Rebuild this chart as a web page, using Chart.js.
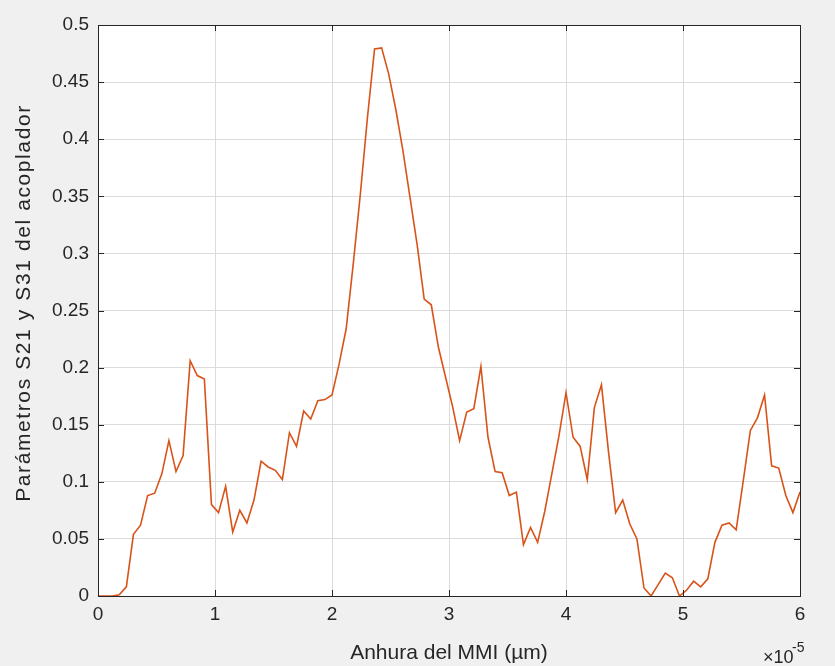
<!DOCTYPE html>
<html>
<head>
<meta charset="utf-8">
<script src="https://cdn.jsdelivr.net/npm/chart.js@4"></script>
<style>
  body { margin: 0; background: #f0f0f0; }
  #wrap { width: 835px; height: 666px; }
</style>
</head>
<body>
<div id="wrap"><canvas id="chart"></canvas></div>
<script>
// MMI width, in units of 1e-5 (shown by the x10^-5 exponent label)
const widthE5 = [
  0.0000, 0.0606, 0.1212, 0.1818, 0.2424, 0.3030, 0.3636, 0.4242, 0.4848, 0.5455,
  0.6061, 0.6667, 0.7273, 0.7879, 0.8485, 0.9091, 0.9697, 1.0303, 1.0909, 1.1515,
  1.2121, 1.2727, 1.3333, 1.3939, 1.4545, 1.5152, 1.5758, 1.6364, 1.6970, 1.7576,
  1.8182, 1.8788, 1.9394, 2.0000, 2.0606, 2.1212, 2.1818, 2.2424, 2.3030, 2.3636,
  2.4242, 2.4848, 2.5455, 2.6061, 2.6667, 2.7273, 2.7879, 2.8485, 2.9091, 2.9697,
  3.0303, 3.0909, 3.1515, 3.2121, 3.2727, 3.3333, 3.3939, 3.4545, 3.5152, 3.5758,
  3.6364, 3.6970, 3.7576, 3.8182, 3.8788, 3.9394, 4.0000, 4.0606, 4.1212, 4.1818,
  4.2424, 4.3030, 4.3636, 4.4242, 4.4848, 4.5455, 4.6061, 4.6667, 4.7273, 4.7879,
  4.8485, 4.9091, 4.9697, 5.0303, 5.0909, 5.1515, 5.2121, 5.2727, 5.3333, 5.3939,
  5.4545, 5.5152, 5.5758, 5.6364, 5.6970, 5.7576, 5.8182, 5.8788, 5.9394, 6.0000
];

// S21 / S31 coupler parameter
const sParam = [
  0.000, 0.000, 0.000, 0.001, 0.008, 0.054, 0.062, 0.088, 0.090, 0.107,
  0.136, 0.109, 0.123, 0.206, 0.193, 0.190, 0.080, 0.073, 0.096, 0.056,
  0.075, 0.064, 0.084, 0.118, 0.113, 0.110, 0.102, 0.143, 0.131, 0.162,
  0.155, 0.171, 0.172, 0.176, 0.203, 0.234, 0.291, 0.352, 0.419, 0.479,
  0.480, 0.457, 0.426, 0.390, 0.349, 0.308, 0.260, 0.255, 0.218, 0.192,
  0.166, 0.136, 0.161, 0.164, 0.201, 0.139, 0.109, 0.108, 0.088, 0.091,
  0.045, 0.060, 0.047, 0.074, 0.107, 0.140, 0.178, 0.139, 0.131, 0.102,
  0.165, 0.185, 0.126, 0.073, 0.084, 0.063, 0.050, 0.007, 0.000, 0.010,
  0.020, 0.016, 0.000, 0.005, 0.013, 0.008, 0.015, 0.047, 0.062, 0.064,
  0.058, 0.101, 0.145, 0.156, 0.176, 0.114, 0.112, 0.088, 0.073, 0.091
];

const xTicks = [0, 1, 2, 3, 4, 5, 6];
const yTicks = [0, 0.05, 0.1, 0.15, 0.2, 0.25, 0.3, 0.35, 0.4, 0.45, 0.5];

const xTitle = 'Anhura del MMI (\u00b5m)';
const yTitle = 'Par\u00e1metros S21 y S31 del acoplador';

const font = "'Liberation Sans', Arial, Helvetica, sans-serif";
const axisColor = '#262626';

// white plot box, full frame with inward ticks, y title and the x10^-5 exponent
const matlabBox = {
  id: 'matlabBox',
  beforeDraw(chart) {
    const { ctx, chartArea: a } = chart;
    ctx.save();
    ctx.fillStyle = '#ffffff';
    ctx.fillRect(a.left, a.top, a.right - a.left, a.bottom - a.top);
    ctx.restore();
  },
  afterDraw(chart) {
    const { ctx, chartArea: a, scales } = chart;
    ctx.save();
    ctx.strokeStyle = axisColor;
    ctx.lineWidth = 1;
    ctx.strokeRect(a.left + 0.5, a.top + 0.5, a.right - a.left, a.bottom - a.top);
    ctx.beginPath();
    const len = 6;
    xTicks.forEach(v => {
      const x = Math.round(scales.x.getPixelForValue(v)) + 0.5;
      ctx.moveTo(x, a.bottom); ctx.lineTo(x, a.bottom - len);
      ctx.moveTo(x, a.top); ctx.lineTo(x, a.top + len);
    });
    yTicks.forEach(v => {
      const y = Math.round(scales.y.getPixelForValue(v)) + 0.5;
      ctx.moveTo(a.left, y); ctx.lineTo(a.left + len, y);
      ctx.moveTo(a.right, y); ctx.lineTo(a.right - len, y);
    });
    ctx.stroke();

    ctx.fillStyle = axisColor;

    // y axis title, a little letter-spaced like the original
    ctx.save();
    ctx.translate(24, 303);
    ctx.rotate(-Math.PI / 2);
    ctx.font = '21px ' + font;
    ctx.letterSpacing = '1.6px';
    ctx.textAlign = 'center';
    ctx.textBaseline = 'middle';
    ctx.fillText(yTitle, 0, 0);
    ctx.restore();

    ctx.textBaseline = 'alphabetic';
    ctx.textAlign = 'left';
    ctx.font = '18px ' + font;
    ctx.fillText('\u00d710', 763, 663);
    ctx.font = '14px ' + font;
    ctx.fillText('-5', 792, 652);
    ctx.restore();
  }
};

new Chart(document.getElementById('chart'), {
  type: 'line',
  data: {
    datasets: [{
      data: widthE5.map((w, i) => ({ x: w, y: sParam[i] })),
      borderColor: '#d95319',
      borderWidth: 1.6,
      pointRadius: 0,
      tension: 0,
      fill: false
    }]
  },
  options: {
    responsive: true,
    maintainAspectRatio: false,
    animation: false,
    layout: { padding: { top: 25, right: 35, left: 0, bottom: 0 } },
    plugins: {
      legend: { display: false },
      tooltip: { enabled: false }
    },
    scales: {
      x: {
        type: 'linear',
        min: 0,
        max: 6,
        afterBuildTicks: s => { s.ticks = xTicks.map(v => ({ value: v })); },
        afterFit: s => { s.height = 70; },
        grid: { color: '#dbdbdb', drawTicks: false },
        border: { display: false },
        ticks: {
          color: axisColor,
          padding: 7,
          font: { family: font, size: 19 },
          callback: v => String(v)
        },
        title: {
          display: true,
          text: xTitle,
          color: axisColor,
          font: { family: font, size: 21 },
          padding: { top: 2, bottom: 0 }
        }
      },
      y: {
        min: 0,
        max: 0.5,
        afterBuildTicks: s => { s.ticks = yTicks.map(v => ({ value: v })); },
        afterFit: s => { s.width = 98; },
        grid: { color: '#dbdbdb', drawTicks: false },
        border: { display: false },
        ticks: {
          color: axisColor,
          padding: 9,
          font: { family: font, size: 19 },
          callback: v => String(+v.toFixed(2))
        }
      }
    }
  },
  plugins: [matlabBox]
});
</script>
</body>
</html>
